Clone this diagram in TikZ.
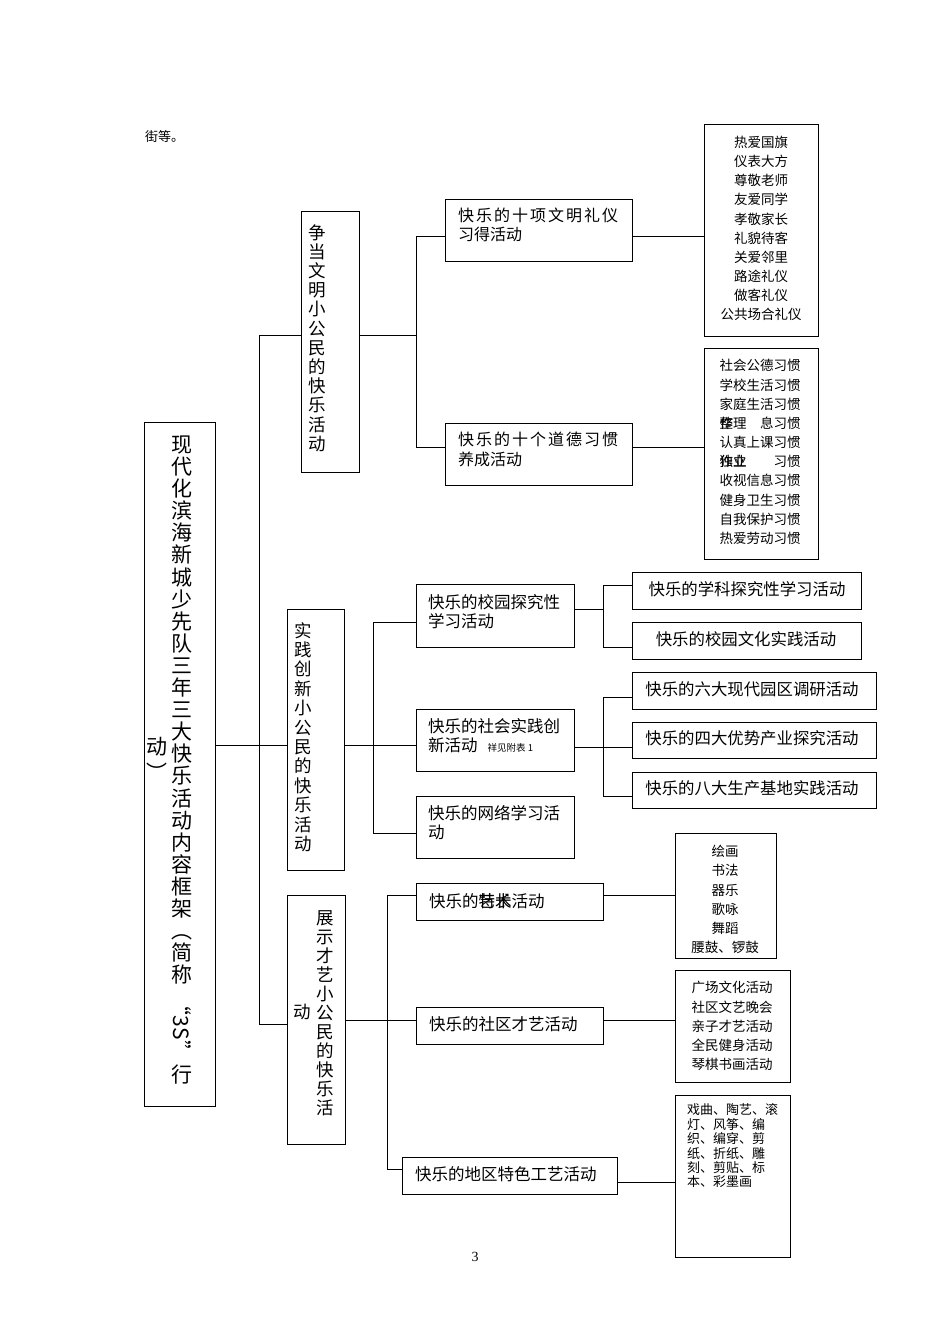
\documentclass[tikz,border=0pt]{standalone}
\usepackage{fontspec}
\setmainfont{Noto Sans CJK SC}
\newfontfamily\latinserif{Liberation Serif}
\newcommand\fs[2]{\fontsize{#1}{#2}\selectfont}
\newcommand\cs[1]{\makebox[18pt][l]{#1}}
\begin{document}
\begin{tikzpicture}[x=1pt,y=-1pt,
  bx/.style={draw=black, line width=1pt, inner sep=0pt, anchor=north west},
  ln/.style={draw=black, line width=1pt},
  tx/.style={inner sep=0pt, text=black},
  boxtext/.style={tx, anchor=west, align=left, font=\fs{16}{19.5}},
  listtext/.style={tx, align=center, font=\fs{13.5}{19.15}},
  subtext/.style={tx, font=\fs{16.4}{19}},
  vmain/.style={tx, align=center, font=\fs{21}{22.1}},
  vsub/.style={tx, align=center, font=\fs{17.5}{19.2}}]
\fill[white] (0,0) rectangle (950,1344);
\useasboundingbox (0,0) rectangle (950,1344);

% header and page number
\node[tx, anchor=west, font=\fs{13}{15}] (hdr) at (145,137) {街等。};
\node[tx, font=\latinserif\fs{14}{16}] (pg) at (475,1257) {3};

% ---------- boxes ----------
\node[bx, minimum width=71pt, minimum height=684pt] (M) at (144,422) {};
\node[bx, minimum width=58pt, minimum height=261pt] (A) at (301,211) {};
\node[bx, minimum width=57pt, minimum height=261pt] (B) at (287,609) {};
\node[bx, minimum width=58pt, minimum height=249pt] (C) at (287,895) {};

\node[bx, minimum width=187pt, minimum height=62pt] (A1) at (445,199) {};
\node[bx, minimum width=187pt, minimum height=62pt] (A2) at (445,423) {};
\node[bx, minimum width=114pt, minimum height=212pt] (L1) at (704,124) {};
\node[bx, minimum width=114pt, minimum height=211pt] (L2) at (704,348) {};

\node[bx, minimum width=158pt, minimum height=63pt] (B1) at (416,584) {};
\node[bx, minimum width=158pt, minimum height=62pt] (B2) at (416,709) {};
\node[bx, minimum width=158pt, minimum height=62pt] (B3) at (416,796) {};
\node[bx, minimum width=229pt, minimum height=37pt] (B1a) at (632,572) {};
\node[bx, minimum width=229pt, minimum height=37pt] (B1b) at (632,622) {};
\node[bx, minimum width=244pt, minimum height=37pt] (B2a) at (632,672) {};
\node[bx, minimum width=244pt, minimum height=36pt] (B2b) at (632,722) {};
\node[bx, minimum width=244pt, minimum height=36pt] (B2c) at (632,772) {};

\node[bx, minimum width=187pt, minimum height=37pt] (C1) at (416,883) {};
\node[bx, minimum width=187pt, minimum height=37pt] (C2) at (416,1007) {};
\node[bx, minimum width=215pt, minimum height=37pt] (C3) at (402,1157) {};
\node[bx, minimum width=101pt, minimum height=125pt] (L3) at (675,833) {};
\node[bx, minimum width=115pt, minimum height=112pt] (L4) at (675,970) {};
\node[bx, minimum width=115pt, minimum height=162pt] (L5) at (675,1095) {};

% ---------- texts ----------
\node[vmain] (Mt) at (182,710.2) {现\\代\\化\\滨\\海\\新\\城\\少\\先\\队\\三\\年\\三\\大\\快\\乐\\活\\动\\内\\容\\框\\架\\︵\\简\\称};
\node[tx, rotate=-90, font=\fs{21}{23}] (Mq) at (182,1028) {“3S”};
\node[tx, font=\fs{21}{23}] (Mx) at (182,1075) {行};
\node[tx, align=center, font=\fs{21}{26}] (My) at (157,758.5) {动\\︶};

\node[vsub] (At) at (317,338) {争\\当\\文\\明\\小\\公\\民\\的\\快\\乐\\活\\动};
\node[vsub, font=\fs{17.5}{19.4}] (Bt) at (303,737) {实\\践\\创\\新\\小\\公\\民\\的\\快\\乐\\活\\动};
\node[vsub, font=\fs{17.5}{19}] (Ct) at (325,1013) {展\\示\\才\\艺\\小\\公\\民\\的\\快\\乐\\活};
\node[tx, font=\fs{17.5}{19}] (Cx) at (302,1012) {动};

\node[boxtext] (A1t) at (458,225) {\cs{快}\cs{乐}\cs{的}\cs{十}\cs{项}\cs{文}\cs{明}\cs{礼}\cs{仪}\\习得活动};
\node[boxtext] (A2t) at (458,449.5) {\cs{快}\cs{乐}\cs{的}\cs{十}\cs{个}\cs{道}\cs{德}\cs{习}\cs{惯}\\养成活动};

\node[listtext] (L1t) at (761,228.5) {热爱国旗\\仪表大方\\尊敬老师\\友爱同学\\孝敬家长\\礼貌待客\\关爱邻里\\路途礼仪\\做客礼仪\\公共场合礼仪};
\node[listtext] (L2t) at (760,452) {社会公德习惯\\学校生活习惯\\家庭生活习惯\\\rlap{整}作理\hspace{1em}息习惯\\认真上课习惯\\\rlap{作业}独立\hspace{2em}习惯\\收视信息习惯\\健身卫生习惯\\自我保护习惯\\热爱劳动习惯};

\node[boxtext, font=\fs{16.5}{19.5}] (B1t) at (428,611.5) {快乐的校园探究性\\学习活动};
\node[boxtext, font=\fs{16.5}{19.5}] (B2t) at (428,735.5) {快乐的社会实践创\\新活动\hspace{10pt}{\fs{9.5}{10}祥见附表 1}};
\node[boxtext, font=\fs{16.5}{19.5}] (B3t) at (428,822.5) {快乐的网络学习活\\动};

\node[subtext] (B1at) at (747,589) {快乐的学科探究性学习活动};
\node[subtext] (B1bt) at (746,639) {快乐的校园文化实践活动};
\node[subtext] (B2at) at (752,689) {快乐的六大现代园区调研活动};
\node[subtext] (B2bt) at (752,738) {快乐的四大优势产业探究活动};
\node[subtext] (B2ct) at (752,788) {快乐的八大生产基地实践活动};

\node[boxtext, font=\fs{16.5}{19.5}] (C1t) at (429,901) {快乐的\rlap{特长}艺术活动};
\node[boxtext, font=\fs{16.5}{19.5}] (C2t) at (429,1024) {快乐的社区才艺活动};
\node[boxtext, font=\fs{16.5}{19.5}] (C3t) at (415,1174) {快乐的地区特色工艺活动};

\node[listtext] (L3t) at (725,899.5) {绘画\\书法\\器乐\\歌咏\\舞蹈\\腰鼓、锣鼓};
\node[listtext] (L4t) at (732,1026) {广场文化活动\\社区文艺晚会\\亲子才艺活动\\全民健身活动\\琴棋书画活动};
\node[tx, anchor=west, align=left, font=\fs{13}{14.4}] (L5t) at (687,1146) {戏曲、陶艺、滚\\灯、风筝、编\\织、编穿、剪\\纸、折纸、雕\\刻、剪贴、标\\本、彩墨画};

% ---------- connectors ----------
\coordinate (tm1) at (259,335);
\coordinate (tm2) at (259,745);
\coordinate (tm3) at (259,1024);
\draw[ln] (M.east |- tm2) -- (B.west |- tm2);
\draw[ln] (tm1) -- (tm3);
\draw[ln] (tm1) -- (A.west |- tm1);
\draw[ln] (tm3) -- (C.west |- tm3);

\coordinate (ta0) at (416,335);
\coordinate (ta1) at (416,236);
\coordinate (ta2) at (416,447);
\draw[ln] (A.east |- ta0) -- (ta0);
\draw[ln] (ta1) -- (ta2);
\draw[ln] (ta1) -- (A1.west |- ta1);
\draw[ln] (ta2) -- (A2.west |- ta2);
\draw[ln] (A1.east |- ta1) -- (L1.west |- ta1);
\draw[ln] (A2.east |- ta2) -- (L2.west |- ta2);

\coordinate (tb1) at (373,622);
\coordinate (tb2) at (373,745);
\coordinate (tb3) at (373,833);
\draw[ln] (B.east |- tb2) -- (B2.west |- tb2);
\draw[ln] (tb1) -- (tb3);
\draw[ln] (tb1) -- (B1.west |- tb1);
\draw[ln] (tb3) -- (B3.west |- tb3);

\coordinate (sb1) at (603,609);
\coordinate (s1a) at (603,585);
\coordinate (s1b) at (603,647);
\draw[ln] (B1.east |- sb1) -- (sb1);
\draw[ln] (s1a) -- (s1b);
\draw[ln] (s1a) -- (B1a.west |- s1a);
\draw[ln] (s1b) -- (B1b.west |- s1b);

\coordinate (s2a) at (603,697);
\coordinate (s2b) at (603,747);
\coordinate (s2c) at (603,796);
\draw[ln] (B2.east |- s2b) -- (B2b.west |- s2b);
\draw[ln] (s2a) -- (s2c);
\draw[ln] (s2a) -- (B2a.west |- s2a);
\draw[ln] (s2c) -- (B2c.west |- s2c);

\coordinate (tc1) at (387,895);
\coordinate (tc2) at (387,1020);
\coordinate (tc3) at (387,1169);
\draw[ln] (C.east |- tc2) -- (C2.west |- tc2);
\draw[ln] (tc1) -- (tc3);
\draw[ln] (tc1) -- (C1.west |- tc1);
\draw[ln] (tc3) -- (C3.west |- tc3);
\draw[ln] (C1.east |- tc1) -- (L3.west |- tc1);
\draw[ln] (C2.east |- tc2) -- (L4.west |- tc2);
\coordinate (cc3) at (650,1182);
\draw[ln] (C3.east |- cc3) -- (L5.west |- cc3);
\end{tikzpicture}
\end{document}
